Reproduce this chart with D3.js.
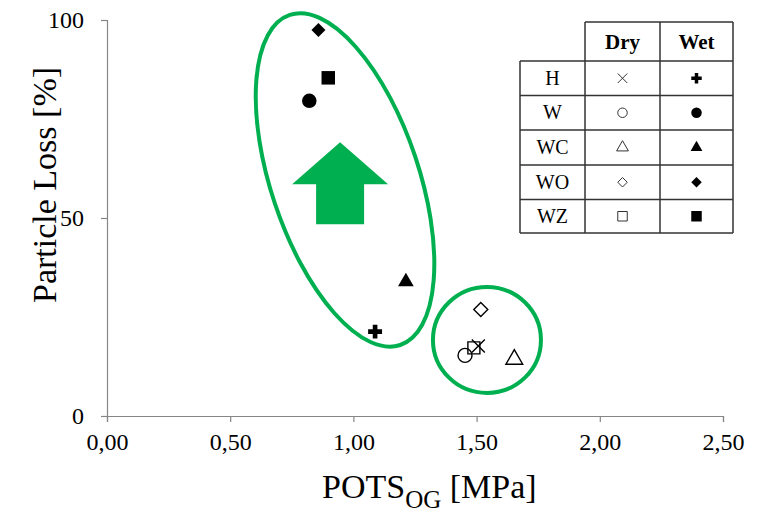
<!DOCTYPE html>
<html>
<head>
<meta charset="utf-8">
<script src="https://cdn.jsdelivr.net/npm/d3@7"></script>
<style>
  body { margin: 0; background: #fff; }
  svg text { font-family: "Liberation Serif", "Times New Roman", serif; }
</style>
</head>
<body>
<div id="chart"></div>
<script>
var groups = ["H", "W", "WC", "WO", "WZ"];
var dryX = [1.507, 1.453, 1.653, 1.517, 1.489];
var dryY = [17.7, 15.3, 14.3, 26.9, 17.2];
var wetX = [1.088, 0.821, 1.213, 0.858, 0.898];
var wetY = [21.3, 79.6, 33.9, 97.5, 85.4];
var xTicks = [0, 0.5, 1, 1.5, 2, 2.5];
var yTicks = [0, 50, 100];
var legendCols = ["Dry", "Wet"];

var W = 771, H = 512;
var green = "#00B050", axisGrey = "#868686";
var serif = "'Liberation Serif', 'Times New Roman', serif";

var svg = d3.select("#chart").append("svg")
    .attr("width", W)
    .attr("height", H);

var x = d3.scaleLinear().domain([0, 2.5]).range([107, 723]);
var y = d3.scaleLinear().domain([0, 100]).range([416, 20]);

// axes
var xAxis = svg.append("g")
    .attr("transform", "translate(0," + y(0) + ")")
    .call(d3.axisBottom(x).tickValues(xTicks).tickSize(6).tickPadding(11)
        .tickFormat(function (d) { return d3.format(".2f")(d).replace(".", ","); }));
var yAxis = svg.append("g")
    .attr("transform", "translate(" + x(0) + ",0)")
    .call(d3.axisLeft(y).tickValues(yTicks).tickSize(6).tickPadding(17));

[xAxis, yAxis].forEach(function (a) {
    a.attr("font-family", serif).attr("font-size", 24);
    a.select(".domain").attr("stroke", axisGrey).attr("stroke-width", 1.2);
    a.selectAll(".tick line").attr("stroke", axisGrey).attr("stroke-width", 1.2);
    a.selectAll(".tick text")
        .attr("fill", "#000")
        .style("font-family", serif)
        .style("font-size", "24px");
});

// axis titles
svg.append("text")
    .attr("transform", "translate(56,185) rotate(-90)")
    .attr("text-anchor", "middle")
    .attr("font-family", serif)
    .style("font-size", "34px")
    .text("Particle Loss [%]");

var xt = svg.append("text")
    .attr("x", 322)
    .attr("y", 498)
    .attr("font-family", serif)
    .style("font-size", "34px");
xt.append("tspan").text("POTS");
xt.append("tspan").attr("dy", 10).style("font-size", "25px").text("OG");
xt.append("tspan").attr("dy", -10).text(" [MPa]");

// annotations: ellipses and arrow
svg.append("ellipse")
    .attr("cx", 0).attr("cy", 0)
    .attr("rx", 74).attr("ry", 174)
    .attr("transform", "translate(" + x(0.966) + "," + y(59.6) + ") rotate(-18.5)")
    .attr("fill", "none")
    .attr("stroke", green)
    .attr("stroke-width", 4);

svg.append("ellipse")
    .attr("cx", x(1.542)).attr("cy", y(19.2))
    .attr("rx", 54).attr("ry", 53)
    .attr("fill", "none")
    .attr("stroke", green)
    .attr("stroke-width", 4);

var tipX = x(0.946), tipY = y(69.1);
var arrow = [[0, 0], [48, 42], [24, 42], [24, 82], [-24, 82], [-24, 42], [-48, 42]];
svg.append("path")
    .attr("d", d3.line()(arrow.map(function (p) { return [tipX + p[0], tipY + p[1]]; })) + "Z")
    .attr("fill", green);

// markers
var markerPath = function (g, sz, wet) {
    var r = sz / 2;
    if (g === "H") {
        if (wet) return d3.symbol(d3.symbolCross, sz * sz * 0.55)();
        return "M" + -r + "," + -r + "L" + r + "," + r + "M" + r + "," + -r + "L" + -r + "," + r;
    }
    if (g === "W") return d3.symbol(d3.symbolCircle, Math.PI * r * r)();
    if (g === "WC") return d3.symbol(d3.symbolTriangle, sz * sz * 0.42)();
    if (g === "WO") return "M0," + -r + "L" + r + ",0L0," + r + "L" + -r + ",0Z";
    return "M" + -r + "," + -r + "H" + r + "V" + r + "H" + -r + "Z";
};

var sizes = { H: 14, W: 14.5, WC: 16, WO: 14, WZ: 13.5 };
var drySizes = { H: 13, W: 14, WC: 17, WO: 14, WZ: 12 };

var drawPoints = function (xs, ys, wet) {
    svg.append("g").selectAll("path")
        .data(groups)
        .enter()
        .append("path")
        .attr("transform", function (d, i) { return "translate(" + x(xs[i]) + "," + y(ys[i]) + ")"; })
        .attr("d", function (d) { return markerPath(d, wet ? sizes[d] : drySizes[d], wet); })
        .attr("fill", wet ? "#000" : "none")
        .attr("stroke", wet ? "none" : "#000")
        .attr("stroke-width", 1.4);
};
drawPoints(dryX, dryY, false);
drawPoints(wetX, wetY, true);

// legend table
var tbl = svg.append("g").attr("font-family", serif);
var colX = [520, 585, 660, 733];
var rowY = [22, 61, 95.5, 130, 165, 199.5, 233];
var lineCol = "#333";

tbl.append("line").attr("x1", colX[1]).attr("x2", colX[3]).attr("y1", rowY[0]).attr("y2", rowY[0]);
rowY.slice(1).forEach(function (ry) {
    tbl.append("line").attr("x1", colX[0]).attr("x2", colX[3]).attr("y1", ry).attr("y2", ry);
});
tbl.append("line").attr("x1", colX[0]).attr("x2", colX[0]).attr("y1", rowY[1]).attr("y2", rowY[6]);
colX.slice(1).forEach(function (cx) {
    tbl.append("line").attr("x1", cx).attr("x2", cx).attr("y1", rowY[0]).attr("y2", rowY[6]);
});
tbl.selectAll("line").attr("stroke", lineCol).attr("stroke-width", 1.5);

tbl.selectAll("text.head")
    .data(legendCols)
    .enter()
    .append("text")
    .attr("class", "head")
    .attr("x", function (d, i) { return (colX[i + 1] + colX[i + 2]) / 2; })
    .attr("y", (rowY[0] + rowY[1]) / 2 + 7)
    .attr("text-anchor", "middle")
    .style("font-size", "21px")
    .style("font-weight", "bold")
    .text(function (d) { return d; });

groups.forEach(function (g, i) {
    var cy = (rowY[i + 1] + rowY[i + 2]) / 2;
    tbl.append("text")
        .attr("x", (colX[0] + colX[1]) / 2)
        .attr("y", cy + 6.5)
        .attr("text-anchor", "middle")
        .style("font-size", "20px")
        .text(g);
    tbl.append("path")
        .attr("transform", "translate(" + (colX[1] + colX[2]) / 2 + "," + cy + ")")
        .attr("d", markerPath(g, g === "WC" ? 12 : 9.5, false))
        .attr("fill", "none")
        .attr("stroke", "#333")
        .attr("stroke-width", 1);
    tbl.append("path")
        .attr("transform", "translate(" + (colX[2] + colX[3]) / 2 + "," + cy + ")")
        .attr("d", markerPath(g, g === "WC" ? 12 : 10.5, true))
        .attr("fill", "#000");
});
</script>
</body>
</html>
